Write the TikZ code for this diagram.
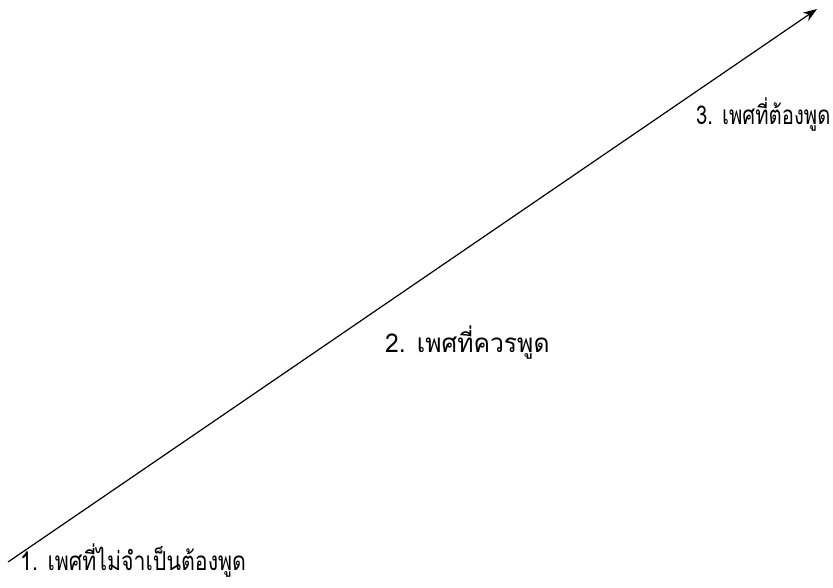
\documentclass[tikz,border=0pt]{standalone}
\usepackage{fontspec}
\newfontfamily\thaifont[Script=Thai]{Loma}
\usetikzlibrary{arrows.meta}
\begin{document}
\begin{tikzpicture}[x=1pt,y=1pt,
  lbl/.style={anchor=base west,inner sep=0pt,transform shape,font=\thaifont\fontsize{26}{30}\selectfont},
  axis/.style={line width=1.2pt,-{Stealth[length=14pt,width=10pt]}}]
\useasboundingbox (0,0) rectangle (833,-588);
\coordinate (s) at (8,-562);
\coordinate (e) at (817,-9);
\draw[axis] (s) -- (e);
\node[lbl,xscale=0.82] (t1) at (20,-570) {1. เพศที่ไม่จำเป็นต้องพูด};
\node[lbl,xscale=0.95] (t2) at (385,-352) {2. เพศที่ควรพูด};
\node[lbl,xscale=0.78] (t3) at (696,-125) {3. เพศที่ต้องพูด};
\end{tikzpicture}
\end{document}
